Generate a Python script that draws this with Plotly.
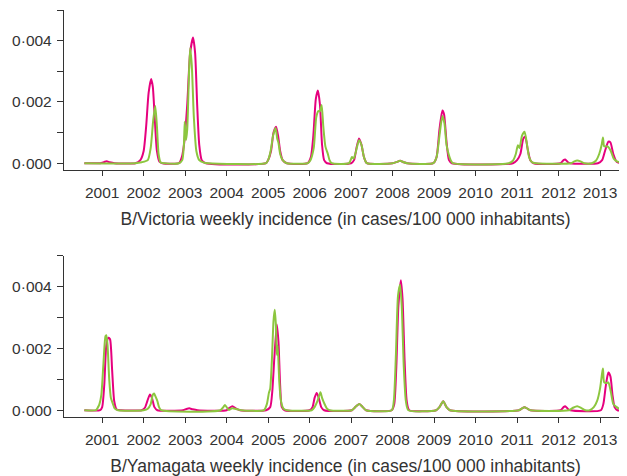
import plotly.graph_objects as go

# B/Victoria panel (decimal years, incidence)
vic_x_pink = [2000.57, 2000.95, 2001.05, 2001.11, 2001.18, 2001.3, 2001.8, 2001.92, 2002.0, 2002.06,
              2002.12, 2002.18, 2002.22, 2002.27, 2002.32, 2002.38, 2002.45, 2002.85, 2002.92, 2002.98,
              2003.05, 2003.12, 2003.19, 2003.24, 2003.29, 2003.34, 2003.4, 2003.5, 2004.95, 2005.0,
              2005.07, 2005.13, 2005.19, 2005.24, 2005.29, 2005.35, 2005.45, 2005.95, 2006.03, 2006.09,
              2006.15, 2006.2, 2006.25, 2006.3, 2006.35, 2006.42, 2007.0, 2007.07, 2007.13, 2007.19,
              2007.25, 2007.31, 2007.38, 2008.0, 2008.1, 2008.18, 2008.27, 2008.35, 2008.98, 2009.06,
              2009.13, 2009.2, 2009.24, 2009.3, 2009.36, 2009.43, 2010.9, 2011.0, 2011.08, 2011.15,
              2011.2, 2011.25, 2011.32, 2011.4, 2012.05, 2012.12, 2012.16, 2012.22, 2012.28, 2012.95,
              2013.05, 2013.12, 2013.2, 2013.25, 2013.32, 2013.4, 2013.5, 2013.6]
vic_y_pink = [0, 0, 0.00004, 0.00006, 0.00003, 0, 0, 0.0001, 0.0004, 0.0012,
              0.0023, 0.00275, 0.0025, 0.0014, 0.0004, 0.00005, 0, 0, 0.0002, 0.0007,
              0.0019, 0.0036, 0.0041, 0.0036, 0.0019, 0.0006, 0.0001, 0, 0, 0.0001,
              0.0004, 0.001, 0.00119, 0.0009, 0.0004, 0.0001, 0, 0, 0.0002, 0.0009,
              0.0021, 0.00237, 0.0019, 0.0006, 0.0001, 0, 0, 0.0001, 0.0005, 0.00081,
              0.0006, 0.0002, 0, 0, 0.00004, 0.00008, 0.00003, 0, 0, 0.0002,
              0.0011, 0.00172, 0.0016, 0.0007, 0.0001, 0, 0, 0.0001, 0.0003, 0.0008,
              0.00086, 0.0005, 0.0001, 0, 0, 0.0001, 0.00012, 0.00004, 0, 0,
              0.0001, 0.0004, 0.0007, 0.00068, 0.0003, 0.00005, 0, 0]

vic_x_green = [2000.57, 2001.8, 2001.95, 2002.1, 2002.17, 2002.23, 2002.28, 2002.32, 2002.36, 2002.41,
               2002.5, 2002.85, 2002.93, 2002.97, 2002.99, 2003.02, 2003.05, 2003.09, 2003.12, 2003.16,
               2003.21, 2003.27, 2003.34, 2003.45, 2003.55, 2004.95, 2005.0, 2005.06, 2005.12, 2005.18,
               2005.22, 2005.25, 2005.29, 2005.35, 2005.45, 2005.95, 2006.02, 2006.1, 2006.16, 2006.21,
               2006.25, 2006.29, 2006.33, 2006.38, 2006.44, 2006.48, 2006.53, 2006.95, 2007.02, 2007.06,
               2007.12, 2007.19, 2007.25, 2007.31, 2007.38, 2008.0, 2008.1, 2008.18, 2008.27, 2008.35,
               2008.98, 2009.06, 2009.13, 2009.2, 2009.25, 2009.3, 2009.35, 2009.4, 2009.45, 2010.8,
               2010.9, 2010.97, 2011.02, 2011.06, 2011.12, 2011.18, 2011.23, 2011.29, 2011.36, 2011.45,
               2012.3, 2012.38, 2012.45, 2012.53, 2012.62, 2012.8, 2012.9, 2012.98, 2013.04, 2013.07,
               2013.1, 2013.15, 2013.2, 2013.26, 2013.33, 2013.42, 2013.55, 2013.6]
vic_y_green = [0, 0, 0.00003, 0.0001, 0.0005, 0.0014, 0.00187, 0.0012, 0.0003, 0.00002,
               0, 0, 0.0001, 0.0006, 0.00135, 0.00075, 0.0011, 0.0028, 0.00376, 0.0032,
               0.0015, 0.0004, 0.0001, 0.00002, 0, 0, 0.0001, 0.0004, 0.0009, 0.00115,
               0.0008, 0.00066, 0.0003, 0.0001, 0, 0, 0.0001, 0.0005, 0.0015, 0.0017,
               0.0017, 0.0019, 0.0012, 0.00055, 0.0003, 0.0001, 0, 0, 0.0002, 0.00015,
               0.0004, 0.00075, 0.0006, 0.0002, 0, 0, 0.00004, 0.00008, 0.00003, 0,
               0, 0.0002, 0.0009, 0.00154, 0.0013, 0.0006, 0.0003, 0.0001, 0, 0,
               0.00008, 0.0003, 0.00059, 0.0005, 0.0009, 0.00103, 0.0007, 0.0002, 0.00003, 0,
               0, 0.00006, 0.00009, 0.00006, 0, 0, 0.00008, 0.0003, 0.0006, 0.00084,
               0.00055, 0.00055, 0.00053, 0.0004, 0.00015, 0.00005, 0.00002, 0]

# B/Yamagata panel
yam_x_pink = [2000.57, 2000.95, 2001.0, 2001.05, 2001.1, 2001.15, 2001.19, 2001.24, 2001.29, 2001.35,
              2001.45, 2001.95, 2002.03, 2002.09, 2002.15, 2002.2, 2002.26, 2002.33, 2002.95, 2003.03,
              2003.1, 2003.18, 2003.3, 2004.0, 2004.07, 2004.14, 2004.22, 2004.32, 2004.95, 2005.05,
              2005.1, 2005.15, 2005.21, 2005.25, 2005.29, 2005.33, 2005.4, 2006.0, 2006.07, 2006.12,
              2006.17, 2006.22, 2006.28, 2006.35, 2007.02, 2007.1, 2007.2, 2007.28, 2007.36, 2007.98,
              2008.04, 2008.09, 2008.14, 2008.2, 2008.24, 2008.29, 2008.34, 2008.4, 2009.05, 2009.13,
              2009.22, 2009.3, 2009.38, 2011.05, 2011.12, 2011.18, 2011.25, 2011.32, 2012.05, 2012.12,
              2012.16, 2012.22, 2012.28, 2013.02, 2013.08, 2013.14, 2013.2, 2013.25, 2013.3, 2013.35,
              2013.42, 2013.6]
yam_y_pink = [0, 0, 0.0001, 0.0008, 0.0021, 0.00235, 0.0023, 0.0013, 0.0003, 0.00002,
              0, 0, 0.00008, 0.0003, 0.00051, 0.0004, 0.0001, 0, 0, 0.00004,
              0.00006, 0.00003, 0, 0, 0.00008, 0.00013, 0.00006, 0, 0, 0.0001,
              0.0006, 0.0017, 0.00278, 0.0022, 0.0008, 0.0001, 0, 0, 0.0001, 0.0004,
              0.00056, 0.0004, 0.0001, 0, 0, 0.0001, 0.0002, 0.0001, 0, 0,
              0.0002, 0.0014, 0.0034, 0.00421, 0.0036, 0.0016, 0.0003, 0, 0, 0.0001,
              0.00029, 0.0001, 0, 0, 0.00006, 0.0001, 0.00005, 0, 0, 0.0001,
              0.00013, 0.00005, 0, 0, 0.0002, 0.0008, 0.00122, 0.0011, 0.0005, 0.0001,
              0, 0]

yam_x_green = [2000.57, 2000.85, 2000.9, 2000.93, 2000.98, 2001.03, 2001.08, 2001.1, 2001.13, 2001.17,
               2001.21, 2001.26, 2001.3, 2001.38, 2002.0, 2002.1, 2002.17, 2002.22, 2002.25, 2002.3,
               2002.33, 2002.37, 2002.42, 2003.85, 2003.92, 2003.96, 2004.05, 2004.13, 2004.25, 2004.35,
               2004.9, 2004.97, 2005.02, 2005.05, 2005.09, 2005.13, 2005.16, 2005.19, 2005.21, 2005.23,
               2005.27, 2005.31, 2005.37, 2005.45, 2006.05, 2006.12, 2006.19, 2006.26, 2006.3, 2006.36,
               2006.42, 2006.48, 2007.02, 2007.1, 2007.2, 2007.28, 2007.36, 2007.98, 2008.03, 2008.08,
               2008.13, 2008.18, 2008.22, 2008.27, 2008.32, 2008.38, 2009.05, 2009.13, 2009.22, 2009.3,
               2009.38, 2011.05, 2011.12, 2011.18, 2011.25, 2011.32, 2012.25, 2012.35, 2012.45, 2012.55,
               2012.65, 2012.75, 2012.85, 2012.93, 2013.0, 2013.05, 2013.07, 2013.1, 2013.15, 2013.2,
               2013.26, 2013.32, 2013.4, 2013.5, 2013.6]
yam_y_green = [0, 0, 0.0001, 0.00018, 0.0005, 0.0015, 0.0024, 0.00243, 0.0021, 0.001,
               0.0004, 0.0002, 0.00006, 0, 0, 0.00005, 0.0002, 0.0005, 0.00054, 0.0004,
               0.0003, 0.0001, 0, 0, 0.0001, 0.00017, 0.00001, 0.00006, 0.00003, 0,
               0, 0.0002, 0.00057, 0.0007, 0.0016, 0.0029, 0.00326, 0.0027, 0.0018, 0.0021,
               0.0009, 0.0003, 0.00005, 0, 0, 0.0001, 0.0003, 0.00058, 0.0004, 0.0002,
               0.00005, 0, 0, 0.0001, 0.0002, 0.0001, 0, 0, 0.0003, 0.0018,
               0.0037, 0.00407, 0.0034, 0.0014, 0.0003, 0, 0, 0.0001, 0.00029, 0.0001,
               0, 0, 0.00006, 0.0001, 0.00005, 0, 0, 0.00008, 0.00013, 0.00007,
               0, 0, 0.0001, 0.0003, 0.0007, 0.0012, 0.00135, 0.0009, 0.00088, 0.0009,
               0.0006, 0.0002, 0.0001, 0.00003, 0]

years = list(range(2001, 2014))
y_ticks = [0, 0.001, 0.002, 0.003, 0.004, 0.005]
y_labels = ['0·000', '', '0·002', '', '0·004', '']

PINK = '#e6007e'
GREEN = '#8cc63f'
AXIS = '#333333'
TICKFONT = dict(family='Arial, Liberation Sans, sans-serif', size=15.5, color='#333333')
TITLEFONT = dict(family='Arial, Liberation Sans, sans-serif', size=17.5, color='#333333')

fig = go.Figure()
for xs, ys, col, ax in [(vic_x_pink, vic_y_pink, PINK, 'y'), (vic_x_green, vic_y_green, GREEN, 'y'),
                        (yam_x_pink, yam_y_pink, PINK, 'y2'), (yam_x_green, yam_y_green, GREEN, 'y2')]:
    fig.add_trace(go.Scatter(x=xs, y=ys, mode='lines', yaxis=ax, xaxis='x' if ax == 'y' else 'x2',
                             line=dict(color=col, width=2, shape='spline', smoothing=0.6),
                             showlegend=False, hoverinfo='skip'))

xcommon = dict(range=[2000.08, 2013.65], tickvals=years, ticks='outside', ticklen=5, tickwidth=1,
               tickcolor=AXIS, showline=True, linecolor=AXIS, linewidth=1.3, showgrid=False,
               zeroline=False, tickfont=TICKFONT, ticklabelstandoff=3)
ycommon = dict(range=[-0.00022, 0.005], tickvals=y_ticks, ticktext=y_labels, ticks='outside', ticklen=6,
               tickwidth=1, tickcolor=AXIS, showline=True, linecolor=AXIS, linewidth=1.3,
               showgrid=False, zeroline=False, tickfont=TICKFONT, ticklabelstandoff=2)

# page body has an 8px default margin, so the figure is 8px smaller and offset
fig.update_layout(
    width=619, height=468,
    margin=dict(l=56, r=0, t=2, b=59),
    paper_bgcolor='white', plot_bgcolor='white',
    xaxis=dict(xcommon, domain=[0, 1], anchor='y',
               title=dict(text='B/Victoria weekly incidence (in cases/100 000 inhabitants)',
                          font=TITLEFONT, standoff=13)),
    yaxis=dict(ycommon, domain=[0.607, 1], anchor='x'),
    xaxis2=dict(xcommon, domain=[0, 1], anchor='y2',
                title=dict(text='B/Yamagata weekly incidence (in cases/100 000 inhabitants)',
                           font=TITLEFONT, standoff=13)),
    yaxis2=dict(ycommon, domain=[0, 0.3956], anchor='x2'),
)

fig.write_html("out.html")
